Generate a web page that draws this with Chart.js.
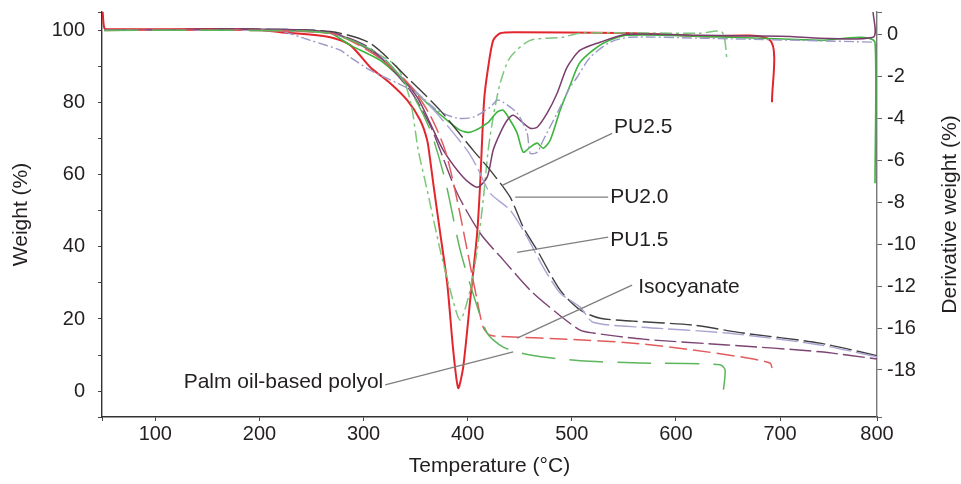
<!DOCTYPE html>
<html>
<head>
<meta charset="utf-8">
<title>TGA / DTG of PU samples</title>
<script src="https://cdn.jsdelivr.net/npm/chart.js@4.4.1/dist/chart.umd.min.js"></script>
<style>
  html, body { margin: 0; padding: 0; background: #fff; }
  #wrap { width: 961px; height: 484px; }
</style>
</head>
<body>
<div id="wrap"><canvas id="tga" width="961" height="484"></canvas></div>
<script>
// axis ticks
const tempTicks = [100, 200, 300, 400, 500, 600, 700];
const tempEndLabel = '800';
const weightTicks = [0, 10, 20, 30, 40, 50, 60, 70, 80, 90, 100];
const weightLabelled = [0, 20, 40, 60, 80, 100];
const dtgTickValues = [0, -2, -4, -6, -8, -10, -12, -14, -16];
const dtgTickLabels = ['0', '-2', '-4', '-6', '-8', '-10', '-12', '-16', '-18'];

// TGA curves: [temperature °C, weight %]
const pu25Tga = [[51.0,100.1],[191.2,100.4],[268.0,99.8],[306.4,96.5],[344.8,86.2],[373.6,77.9],[405.3,66.8],[421.6,61.3],[440.8,53.8],[453.3,45.5],[466.7,39.1],[488.8,28.0],[508.0,22.5],[527.2,20.2],[558.9,19.4],[616.5,18.3],[664.5,16.1],[738.4,13.3],[793.1,9.8]];
const pu20Tga = [[51.0,100.1],[191.2,100.1],[268.0,99.3],[306.4,95.1],[344.8,84.8],[373.6,76.0],[399.5,66.8],[409.1,62.1],[421.6,54.9],[440.8,50.2],[457.1,42.7],[472.5,34.4],[488.8,27.2],[508.0,23.3],[520.5,19.1],[568.5,17.7],[649.1,16.1],[738.4,12.8],[793.1,9.5]];
const pu15Tga = [[51.0,100.1],[191.2,100.4],[268.0,99.5],[306.4,95.1],[344.8,83.4],[364.0,73.7],[373.6,66.8],[389.9,54.9],[412.0,43.8],[434.1,36.4],[460.0,28.0],[485.9,21.6],[508.0,16.9],[520.5,16.1],[568.5,14.4],[649.1,12.8],[738.4,10.9],[793.1,8.9]];
const isoTga = [[51.0,100.1],[191.2,100.1],[268.0,99.3],[287.2,97.3],[316.0,92.3],[344.8,84.8],[364.0,76.5],[378.4,66.8],[389.9,53.0],[399.5,39.1],[409.1,25.2],[414.9,17.7],[421.6,15.5],[443.7,15.0],[495.5,14.4],[558.9,13.3],[616.5,11.4],[668.3,9.2],[690.4,7.8],[692.3,6.4]];
const polyolTga = [[51.0,100.1],[191.2,100.1],[268.0,99.3],[316.0,93.2],[344.8,83.4],[364.0,72.4],[378.4,58.5],[392.8,39.1],[407.2,25.2],[418.7,16.1],[434.1,12.2],[460.0,10.0],[508.0,8.4],[565.6,7.8],[642.4,7.3],[647.2,5.9],[645.3,-0.5]];

// DTG curves: [temperature °C, derivative weight %]
const isoDtg = [[49.4,1.1],[51.0,0.3],[55.0,0.24],[191.2,0.24],[220.0,0.10],[268.0,-0.14],[287.2,-0.52],[306.4,-1.57],[325.6,-2.33],[341.9,-3.14],[354.4,-4.10],[361.1,-5.05],[364.0,-6.0],[366.9,-7.10],[373.6,-9.48],[380.3,-11.86],[386.1,-15.05],[390.9,-16.86],[395.7,-15.86],[402.4,-12.67],[409.1,-9.48],[412.0,-7.10],[415.8,-3.14],[419.7,-1.57],[424.5,-0.29],[431.2,0.05],[447.5,0.10],[558.9,0.05],[623.2,-0.10],[690.4,-0.29],[692.3,-3.24]];
const polyolDtg = [[51.0,0.19],[191.2,0.19],[268.0,0.05],[306.4,-0.76],[332.3,-1.57],[344.8,-3.14],[352.5,-5.52],[361.1,-7.43],[373.6,-10.29],[383.2,-12.19],[392.8,-13.62],[402.4,-12.19],[409.1,-10.29],[414.9,-7.90],[419.7,-5.52],[424.5,-3.95],[431.2,-2.33],[440.8,-1.10],[460.0,-0.29],[491.7,-0.14],[508.0,0.05],[623.2,0.05],[644.3,0.10],[649.1,-1.24]];
const puGreenDtg = [[51.0,0.19],[191.2,0.19],[239.2,0.14],[268.0,0.05],[287.2,-0.52],[316.0,-1.24],[338.1,-2.19],[361.1,-3.29],[380.3,-4.10],[392.8,-4.57],[402.4,-4.67],[418.7,-4.24],[428.3,-3.71],[434.1,-3.62],[440.8,-4.10],[447.5,-4.71],[453.3,-5.62],[460.0,-5.38],[466.7,-5.19],[472.5,-5.43],[479.2,-5.05],[488.8,-3.62],[498.4,-2.43],[508.0,-1.33],[530.1,-0.43],[553.1,-0.05],[623.2,-0.10],[680.8,-0.19],[738.4,-0.29],[791.2,-0.38],[791.2,-7.10]];
const puLavenderDtg = [[51.0,0.19],[191.2,0.19],[217.1,0.19],[248.8,-0.29],[277.6,-0.76],[287.2,-1.10],[306.4,-1.71],[332.3,-2.33],[351.5,-2.81],[370.7,-3.62],[389.9,-4.0],[405.3,-3.95],[421.6,-3.48],[428.3,-3.14],[434.1,-3.24],[447.5,-3.76],[457.1,-4.71],[460.0,-5.67],[466.7,-5.62],[472.5,-5.05],[485.9,-3.76],[498.4,-2.52],[505.1,-2.05],[517.6,-1.10],[536.8,-0.38],[556.0,-0.14],[623.2,-0.19],[719.2,-0.29],[793.1,-0.38]];
const puPurpleDtg = [[51.0,0.19],[191.2,0.24],[268.0,0.10],[306.4,-0.76],[332.3,-1.86],[351.5,-3.0],[364.0,-4.24],[376.5,-5.52],[395.7,-6.81],[409.1,-7.29],[418.7,-6.81],[424.5,-5.52],[431.2,-4.71],[437.9,-4.10],[443.7,-3.86],[450.4,-4.10],[460.0,-4.48],[466.7,-4.43],[476.3,-3.76],[485.9,-2.81],[495.5,-1.57],[508.0,-0.76],[527.2,-0.38],[553.1,0.0],[623.2,-0.05],[700.0,-0.10],[789.3,-0.14],[789.3,1.1]];

// callout labels, anchored in data units (temperature, weight)
const noteTexts = ['PU2.5', 'PU2.0', 'PU1.5', 'Isocyanate', 'Palm oil-based polyol'];
const noteTextAt = [[540.6,73.2],[536.8,53.8],[536.8,41.9],[563.7,28.8],[318.9,2.5]];
const noteLineFrom = [[538.7,71.5],[534.9,53.8],[534.9,42.7],[557.9,29.4],[320.8,1.7]];
const noteLineTo = [[433.1,57.1],[445.6,53.8],[447.5,38.5],[447.5,14.7],[443.7,10.9]];
const noteAlign = ['left', 'left', 'left', 'left', 'right'];

const FONT = '"Liberation Sans", Arial, Helvetica, sans-serif';
const TEXT = '#231f20';
Chart.defaults.font.family = FONT;
Chart.defaults.font.size = 20;
Chart.defaults.color = TEXT;

const xy = arr => arr.map(p => ({ x: p[0], y: p[1] }));

function line(data, axis, color, dash, width) {
    return {
        data: xy(data),
        yAxisID: axis,
        borderColor: color,
        borderDash: dash,
        borderWidth: width,
        pointRadius: 0,
        tension: 0.25,
        fill: false
    };
}

// the end ticks carry no labels, so drop the half-label padding Chart.js reserves for them
function fixY(width) {
    return s => {
        s.width = width;
        s.paddingTop = 0;
        s.paddingBottom = 0;
    };
}

// leader lines + labels, and the right axis title (reads bottom to top like the left one)
const notesPlugin = {
    id: 'notes',
    afterDatasetsDraw(chart) {
        const { ctx } = chart;
        const sx = chart.scales.x, sy = chart.scales.y;
        ctx.save();
        ctx.strokeStyle = '#7f7f7f';
        ctx.lineWidth = 1.3;
        ctx.font = '21px ' + FONT;
        ctx.fillStyle = TEXT;
        ctx.textBaseline = 'middle';
        noteTexts.forEach((t, i) => {
            ctx.beginPath();
            ctx.moveTo(sx.getPixelForValue(noteLineFrom[i][0]), sy.getPixelForValue(noteLineFrom[i][1]));
            ctx.lineTo(sx.getPixelForValue(noteLineTo[i][0]), sy.getPixelForValue(noteLineTo[i][1]));
            ctx.stroke();
            ctx.textAlign = noteAlign[i];
            ctx.fillText(t, sx.getPixelForValue(noteTextAt[i][0]), sy.getPixelForValue(noteTextAt[i][1]));
        });
        ctx.restore();
    },
    afterDraw(chart) {
        const { ctx, chartArea } = chart;
        ctx.save();
        ctx.translate(chart.width - 11, (chartArea.top + chartArea.bottom) / 2);
        ctx.rotate(-Math.PI / 2);
        ctx.font = '21px ' + FONT;
        ctx.fillStyle = TEXT;
        ctx.textAlign = 'center';
        ctx.textBaseline = 'middle';
        ctx.fillText('Derivative weight (%)', 0, 0);
        ctx.restore();
    }
};

new Chart(document.getElementById('tga'), {
    type: 'line',
    data: {
        datasets: [
            line(polyolTga, 'y', '#5cb65c', [34, 14], 1.5),
            line(isoTga, 'y', '#e25b5d', [18, 6], 1.5),
            line(pu15Tga, 'y', '#7d4473', [22, 5], 1.4),
            line(pu20Tga, 'y', '#aaa4d2', [22, 5], 1.4),
            line(pu25Tga, 'y', '#404040', [22, 5], 1.4),
            line(puLavenderDtg, 'y2', '#9c99c9', [10, 3, 2, 3], 1.4),
            line(puPurpleDtg, 'y2', '#7a3d6c', [], 1.5),
            line(puGreenDtg, 'y2', '#3bb43d', [], 1.6),
            line(polyolDtg, 'y2', '#7cc77c', [12, 4, 3, 4], 1.5),
            line(isoDtg, 'y2', '#e3262e', [], 2)
        ]
    },
    options: {
        responsive: false,
        animation: false,
        layout: { padding: { top: 12, left: 0, right: 0, bottom: 0 } },
        plugins: { legend: { display: false }, tooltip: { enabled: false } },
        scales: {
            x: {
                type: 'linear',
                min: 48.8,
                max: 793.1,
                afterBuildTicks: s => { s.ticks = [48.8, ...tempTicks, 793.1].map(v => ({ value: v })); },
                afterFit: s => { s.height = 67; },
                ticks: {
                    autoSkip: false, maxRotation: 0, padding: 1, color: TEXT,
                    callback: v => tempTicks.includes(v) ? String(v) : (v === 793.1 ? tempEndLabel : '')
                },
                grid: { drawOnChartArea: false, drawTicks: true, tickLength: 4, tickColor: '#444' },
                border: { display: true, color: '#333', width: 1.4 },
                title: { display: true, text: 'Temperature (°C)', color: TEXT, font: { size: 21 }, padding: { top: 0, bottom: 5 } }
            },
            y: {
                position: 'left',
                min: -7.2,
                max: 105.2,
                afterBuildTicks: s => { s.ticks = [-7.2, ...weightTicks, 105.2].map(v => ({ value: v })); },
                afterFit: fixY(102),
                ticks: {
                    autoSkip: false, padding: 13, color: TEXT,
                    callback: v => weightLabelled.includes(v) ? String(v) : ''
                },
                grid: { drawOnChartArea: false, drawTicks: true, tickLength: 4, tickColor: '#444' },
                border: { display: true, color: '#333', width: 1.4 },
                title: { display: true, text: 'Weight (%)', color: TEXT, font: { size: 21 }, padding: { top: 9, bottom: 0 } }
            },
            y2: {
                position: 'right',
                min: -18.24,
                max: 1.06,
                afterBuildTicks: s => { s.ticks = [-18.24, ...dtgTickValues, 1.06].map(v => ({ value: v })); },
                afterFit: fixY(84),
                ticks: {
                    autoSkip: false, padding: 5, color: TEXT,
                    callback: v => {
                        const i = dtgTickValues.indexOf(v);
                        return i >= 0 ? dtgTickLabels[i] : '';
                    }
                },
                grid: { drawOnChartArea: false, drawTicks: true, tickLength: 5, tickColor: '#666' },
                border: { display: true, color: '#777', width: 1.4 },
                title: { display: false }
            }
        }
    },
    plugins: [notesPlugin]
});
</script>
</body>
</html>
